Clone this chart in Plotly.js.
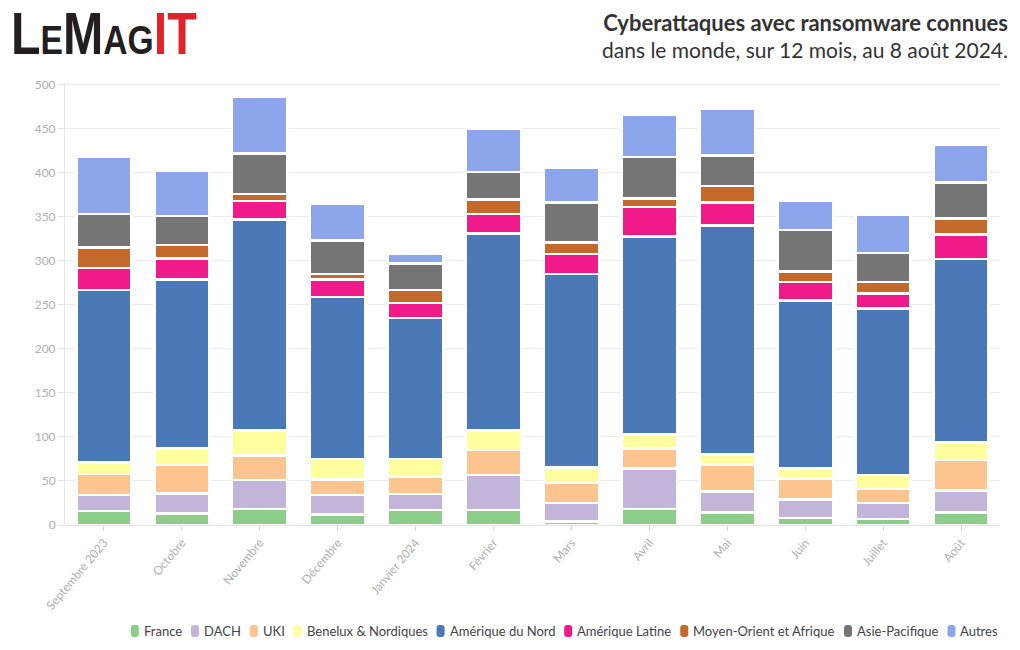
<!DOCTYPE html>
<html>
<head>
<meta charset="utf-8">
<script src="https://cdn.plot.ly/plotly-3.0.1.min.js"></script>
<style>
html,body{margin:0;padding:0;background:#fff;}
#chart{width:1020px;height:650px;}
</style>
</head>
<body>
<div id="chart"></div>
<script>
const months = ["Septembre 2023","Octobre","Novembre","Décembre","Janvier 2024","Février","Mars","Avril","Mai","Juin","Juillet","Août"];

const france          = [16, 13, 18, 12, 17, 17,  4, 18, 14,  8,  7, 14];
const dach            = [18, 23, 33, 22, 18, 40, 21, 46, 24, 21, 18, 25];
const uki             = [24, 32, 28, 18, 20, 28, 23, 23, 31, 24, 16, 35];
const beneluxNordiques= [13, 19, 28, 23, 20, 22, 17, 16, 11, 11, 16, 20];
const ameriqueNord    = [196,192,240,184,160,224,220,225,260,191,189,208];
const ameriqueLatine  = [25, 24, 21, 20, 17, 22, 23, 33, 26, 21, 17, 28];
const moyenOrientAfrique = [23, 15, 8, 6, 15, 17, 13, 10, 19, 12, 13, 18];
const asiePacifique   = [38, 33, 46, 38, 30, 31, 45, 47, 35, 47, 33, 41];
const autres          = [65, 51, 64, 42, 11, 49, 40, 48, 53, 33, 43, 43];

const seriesNames = ["France","DACH","UKI","Benelux & Nordiques","Amérique du Nord","Amérique Latine","Moyen-Orient et Afrique","Asie-Pacifique","Autres"];
const seriesValues = [france, dach, uki, beneluxNordiques, ameriqueNord, ameriqueLatine, moyenOrientAfrique, asiePacifique, autres];
const seriesColors = ["#8ccd8a","#c3b4d9","#fcc590","#fefe9e","#4b79b7","#f01a8b","#c4692c","#757575","#8da5ea"];

const FONT = "Lato, 'Open Sans', sans-serif";

const traces = seriesNames.map((name, i) => ({
  type: "bar",
  name: name,
  x: months,
  y: seriesValues[i],
  marker: {color: seriesColors[i], line: {color: "#ffffff", width: 2.6}},
  hoverinfo: "x+y+name",
  showlegend: false
}));

// plot area geometry (pixels)
const W = 1020, H = 650;
const mL = 65, mR = 20, mT = 83, mB = 125;
const plotW = W - mL - mR, plotH = H - mT - mB;
const pxToPaperX = px => (px - mL) / plotW;
const pxToPaperY = py => (H - mB - py) / plotH;

// custom compact legend, right aligned
const canvas = document.createElement("canvas");
const ctx = canvas.getContext("2d");
const legendFontSize = 13;
ctx.font = legendFontSize + "px Lato";
const shapes = [];
const annotations = [];
let cur = 997;
const legendY = 631;
for (let i = seriesNames.length - 1; i >= 0; i--) {
  const tw = ctx.measureText(seriesNames[i]).width;
  const textStart = cur - tw;
  annotations.push({
    xref: "paper", yref: "paper",
    x: pxToPaperX(textStart - 1), y: pxToPaperY(legendY),
    xanchor: "left", yanchor: "middle",
    text: seriesNames[i], showarrow: false,
    font: {family: FONT, size: legendFontSize, color: "#444"}
  });
  const symRight = textStart - 4;
  const symCenter = symRight - 4;
  shapes.push({
    type: "path", xref: "paper", yref: "paper",
    xsizemode: "pixel", ysizemode: "pixel",
    xanchor: pxToPaperX(symCenter), yanchor: pxToPaperY(legendY),
    path: "M-4,-3 Q-4,-6 -1,-6 L1,-6 Q4,-6 4,-3 L4,3 Q4,6 1,6 L-1,6 Q-4,6 -4,3 Z",
    fillcolor: seriesColors[i], line: {width: 0}
  });
  cur = symCenter - 4 - 10;
}

// logo
annotations.push({
  xref: "paper", yref: "paper",
  x: pxToPaperX(9), y: pxToPaperY(69),
  xanchor: "left", yanchor: "bottom",
  text: "<b>L<span style=\"font-size:41px\">E</span>M<span style=\"font-size:41px\">AG</span><span style=\"color:#e2232a\">IT</span></b>",
  showarrow: false,
  font: {family: "'Liberation Sans', Arial, sans-serif", size: 59, color: "#231f20"}
});

const layout = {
  width: W, height: H,
  margin: {l: mL, r: mR, t: mT, b: mB, pad: 0},
  paper_bgcolor: "#ffffff", plot_bgcolor: "#ffffff",
  barmode: "stack",
  bargap: 0.29,
  font: {family: FONT, color: "#444"},
  title: {
    text: "<b><span style=\"font-size:22px\">Cyberattaques avec ransomware connues</span></b><br>dans le monde, sur 12 mois, au 8 août 2024.",
    x: 1008 / W, xanchor: "right", xref: "container",
    y: 1 - 31 / H, yanchor: "top", yref: "container",
    font: {family: FONT, size: 21, color: "#333"}
  },
  xaxis: {
    type: "category",
    tickangle: -50,
    ticks: "outside", ticklen: 5, tickcolor: "#d6d6d6",
    tickfont: {family: FONT, size: 12, color: "#b0b0b0"},
    showgrid: false, showline: false, zeroline: false,
    fixedrange: true
  },
  yaxis: {
    range: [0, 502],
    dtick: 50, tick0: 0,
    ticks: "outside", ticklen: 6, tickcolor: "#e6e6e6",
    tickfont: {family: FONT, size: 12, color: "#b0b0b0"},
    showgrid: true, gridcolor: "#ececec", gridwidth: 1,
    zeroline: true, zerolinecolor: "#e3e3e3", zerolinewidth: 1,
    showline: true, linecolor: "#e6e6e6", linewidth: 1,
    fixedrange: true
  },
  showlegend: false,
  shapes: shapes,
  annotations: annotations
};

Plotly.newPlot("chart", traces, layout, {displayModeBar: false}).then(gd => {
  // condense the logo horizontally (narrow brand lettering)
  const groups = gd.querySelectorAll(".annotation");
  const logo = groups[groups.length - 1];
  const txt = logo && logo.querySelector("text.annotation-text");
  if (txt) {
    const bb = txt.getBBox();
    const x0 = bb.x;
    txt.setAttribute("transform", `translate(${x0},0) scale(0.82,1) translate(${-x0},0)`);
  }
});
</script>
</body>
</html>
